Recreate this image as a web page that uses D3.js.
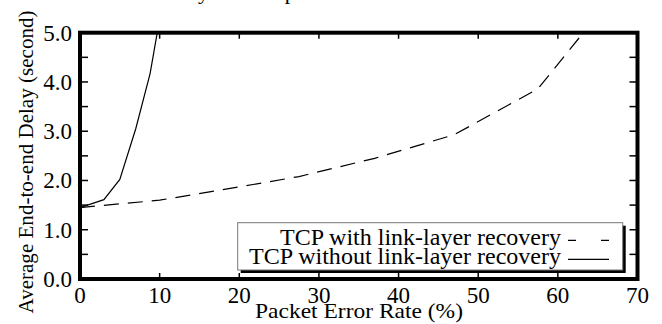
<!DOCTYPE html>
<html>
<head>
<meta charset="utf-8">
<script src="https://cdn.jsdelivr.net/npm/d3@7"></script>
<style>
  body { margin: 0; background: #fff; }
  svg { display: block; }
  text { font-family: "Liberation Serif", "Times New Roman", serif; fill: #000; }
</style>
</head>
<body>
<svg id="chart" width="662" height="324"></svg>
<script>
// Data
var withRecoveryRate = [0, 10, 20, 27.5, 37, 47, 57.5, 63.2];
var withRecoveryDelay = [1.45, 1.6, 1.87, 2.08, 2.45, 2.93, 3.86, 5.0];
var withoutRecoveryRate = [0, 3, 5, 7, 8.8, 9.7];
var withoutRecoveryDelay = [1.45, 1.61, 2.02, 3.05, 4.17, 5.0];
var xTicks = [0, 10, 20, 30, 40, 50, 60, 70];
var yTicks = [0, 1, 2, 3, 4, 5];
var yMinorTicks = [0, 0.5, 1, 1.5, 2, 2.5, 3, 3.5, 4, 4.5, 5];
var seriesNames = ['TCP with link-layer recovery', 'TCP without link-layer recovery'];

var svg = d3.select('#chart');
var fontSize = 22;
var tickFontSize = 23;

// Layout
var plotLeft = 80, plotRight = 637.5, plotTop = 32.7, plotBottom = 279;
var x = d3.scaleLinear().domain([0, 70]).range([plotLeft, plotRight]);
var y = d3.scaleLinear().domain([0, 5]).range([plotBottom, plotTop]);

var series = [
  {
    name: seriesNames[0],
    dash: '15,9',
    sampleDash: '8,25',
    data: withRecoveryRate.map(function (r, i) {
      return { rate: r, delay: withRecoveryDelay[i] };
    })
  },
  {
    name: seriesNames[1],
    dash: null,
    sampleDash: null,
    data: withoutRecoveryRate.map(function (r, i) {
      return { rate: r, delay: withoutRecoveryDelay[i] };
    })
  }
];

// Clipped title at the very top (only descenders show)
var title = svg.append('text')
               .attr('x', 163)
               .attr('y', -1.5)
               .attr('font-size', fontSize)
               .text('Delay with respect to error rate');
var yPos = title.node().getStartPositionOfChar(4).x;
title.attr('x', 163 + (198 - yPos));

svg.append('defs')
   .append('clipPath')
   .attr('id', 'plot-clip')
   .append('rect')
   .attr('x', plotLeft)
   .attr('y', plotTop)
   .attr('width', plotRight - plotLeft)
   .attr('height', plotBottom - plotTop);

// Curves
var line = d3.line()
             .x(function (d) { return x(d.rate); })
             .y(function (d) { return y(d.delay); });

svg.append('g')
   .attr('clip-path', 'url(#plot-clip)')
   .selectAll('.curve')
   .data(series)
   .enter()
   .append('path')
   .attr('class', 'curve')
   .attr('d', function (d) { return line(d.data); })
   .attr('fill', 'none')
   .attr('stroke', '#000')
   .attr('stroke-width', 1.2)
   .attr('stroke-dasharray', function (d) { return d.dash; });

// Ticks inside the frame
var ticks = svg.append('g')
               .attr('stroke', '#000')
               .attr('stroke-width', 1.5);
ticks.selectAll('.tick-top')
     .data(xTicks.slice(1, -1))
     .enter()
     .append('line')
     .attr('x1', function (d) { return x(d); })
     .attr('x2', function (d) { return x(d); })
     .attr('y1', plotTop)
     .attr('y2', plotTop + 6);
ticks.selectAll('.tick-bottom')
     .data(xTicks.slice(1, -1))
     .enter()
     .append('line')
     .attr('x1', function (d) { return x(d); })
     .attr('x2', function (d) { return x(d); })
     .attr('y1', plotBottom)
     .attr('y2', plotBottom - 6);
ticks.selectAll('.tick-left')
     .data(yMinorTicks.slice(1, -1))
     .enter()
     .append('line')
     .attr('x1', plotLeft)
     .attr('x2', plotLeft + 8)
     .attr('y1', function (d) { return y(d); })
     .attr('y2', function (d) { return y(d); });
ticks.selectAll('.tick-right')
     .data(yMinorTicks.slice(1, -1))
     .enter()
     .append('line')
     .attr('x1', plotRight)
     .attr('x2', plotRight - 8)
     .attr('y1', function (d) { return y(d); })
     .attr('y2', function (d) { return y(d); });

// Legend with drop shadow
var legendBox = { x: 237.7, y: 222.7, w: 385, h: 47.3 };
svg.append('rect')
   .attr('x', legendBox.x + 3)
   .attr('y', legendBox.y + 3)
   .attr('width', legendBox.w)
   .attr('height', legendBox.h)
   .attr('fill', '#000');
svg.append('rect')
   .attr('x', legendBox.x)
   .attr('y', legendBox.y)
   .attr('width', legendBox.w)
   .attr('height', legendBox.h)
   .attr('fill', '#fff')
   .attr('stroke', '#777')
   .attr('stroke-width', 1);

var entry = svg.selectAll('.legend')
               .data(series)
               .enter()
               .append('g')
               .attr('class', 'legend')
               .attr('transform', function (d, i) {
                 return 'translate(0,' + (245.3 + i * 19) + ')';
               });
entry.append('text')
     .attr('x', 561)
     .attr('text-anchor', 'end')
     .attr('font-size', tickFontSize)
     .attr('textLength', function (d, i) { return i === 0 ? 281 : 312; })
     .attr('lengthAdjust', 'spacingAndGlyphs')
     .text(function (d) { return d.name; });
entry.append('line')
     .attr('x1', 568)
     .attr('x2', 609)
     .attr('y1', -5)
     .attr('y2', -5)
     .attr('stroke', '#000')
     .attr('stroke-width', 1.2)
     .attr('stroke-dasharray', function (d) { return d.sampleDash; });

// Thick frame
svg.append('rect')
   .attr('x', plotLeft)
   .attr('y', plotTop)
   .attr('width', plotRight - plotLeft)
   .attr('height', plotBottom - plotTop)
   .attr('fill', 'none')
   .attr('stroke', '#000')
   .attr('stroke-width', 4);

// Tick labels
svg.selectAll('.xlabel')
   .data(xTicks)
   .enter()
   .append('text')
   .attr('class', 'xlabel')
   .attr('x', function (d) { return x(d); })
   .attr('y', 303)
   .attr('text-anchor', 'middle')
   .attr('font-size', tickFontSize)
   .text(function (d) { return d; });
svg.selectAll('.ylabel')
   .data(yTicks)
   .enter()
   .append('text')
   .attr('class', 'ylabel')
   .attr('x', 72)
   .attr('y', function (d) { return y(d); })
   .attr('dy', '0.34em')
   .attr('text-anchor', 'end')
   .attr('font-size', tickFontSize)
   .text(function (d) { return d3.format('.1f')(d); });

// Axis titles
svg.append('text')
   .attr('x', 359)
   .attr('y', 318.3)
   .attr('text-anchor', 'middle')
   .attr('font-size', fontSize)
   .attr('textLength', 208)
   .attr('lengthAdjust', 'spacingAndGlyphs')
   .text('Packet Error Rate (%)');
svg.append('text')
   .attr('transform', 'translate(33,162) rotate(-90)')
   .attr('text-anchor', 'middle')
   .attr('font-size', fontSize)
   .attr('textLength', 303)
   .attr('lengthAdjust', 'spacingAndGlyphs')
   .text('Average End-to-end Delay (second)');
</script>
</body>
</html>
